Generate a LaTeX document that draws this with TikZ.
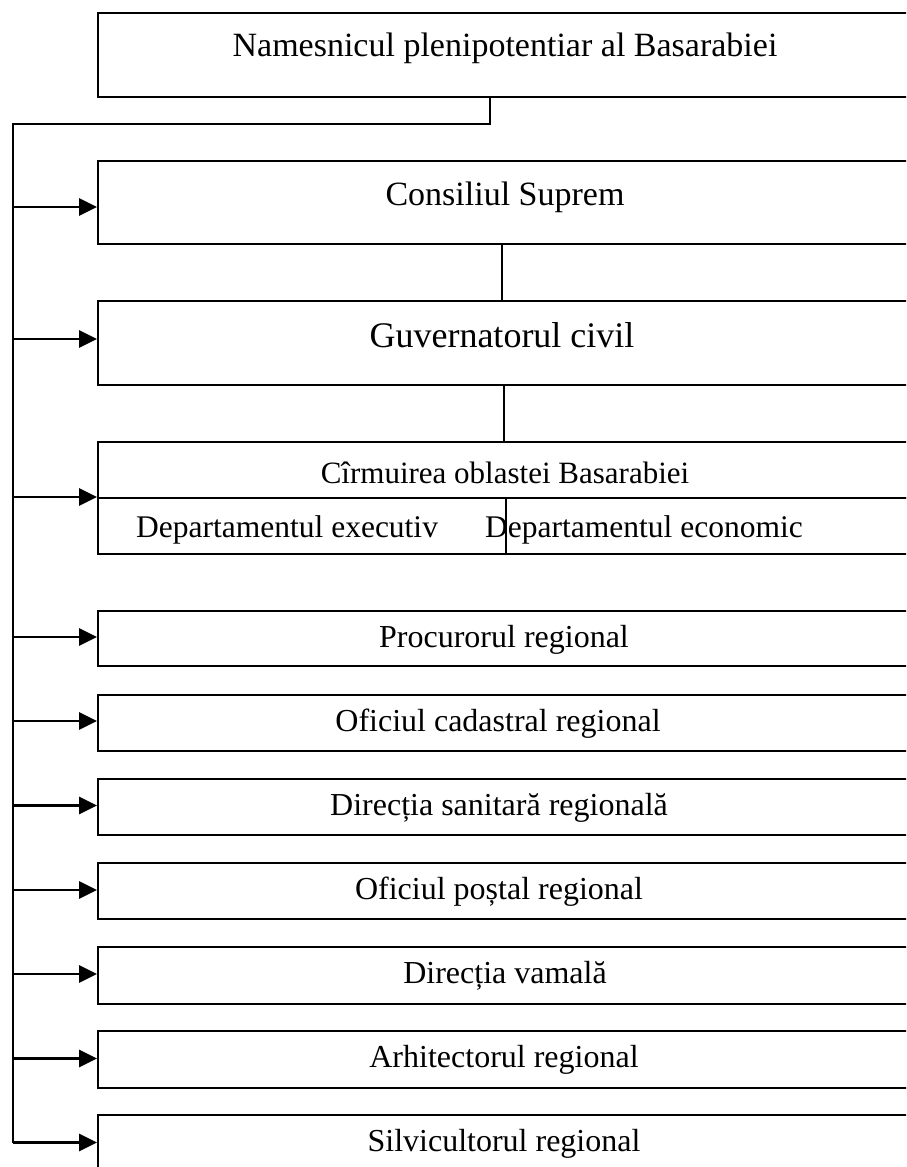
\documentclass[tikz,border=0pt]{standalone}
\usepackage{fontspec}
\setmainfont{Liberation Serif}
\usetikzlibrary{arrows.meta}
\begin{document}
\begin{tikzpicture}[x=1pt,y=-1pt,
  box/.style={draw,line width=2pt,anchor=north west,inner sep=0pt,minimum width=816pt},
  conn/.style={line width=2pt},
  arr/.style={line width=2.8pt,-{Triangle[length=18pt,width=17pt]}},
  big/.style={anchor=base,inner sep=0pt,font=\fontsize{34}{40}\selectfont},
  mid/.style={anchor=base,inner sep=0pt,font=\fontsize{32}{38}\selectfont},
  dep/.style={anchor=base west,inner sep=0pt,font=\fontsize{31.5}{38}\selectfont}]
\useasboundingbox (0,0) rectangle (906,1167);
\begin{scope}
\clip (0,0) rectangle (906,1167);
% boxes
\node[box,minimum height=84.5pt] (nam) at (97,11.5) {};
\node[box,minimum height=83.5pt] (cons) at (97,159.5) {};
\node[box,minimum height=84pt] (guv) at (97,300) {};
\node[box,minimum height=56pt] (cirm) at (97,440.5) {};
\node[box,minimum height=56pt,minimum width=408pt] (dexe) at (97,496.5) {};
\node[box,minimum height=56pt,minimum width=408pt] (deco) at (505,496.5) {};
\node[box,minimum height=55.5pt] (proc) at (97,609.5) {};
\node[box,minimum height=56pt] (cad) at (97,693.5) {};
\node[box,minimum height=56.5pt] (san) at (97,777.5) {};
\node[box,minimum height=56.5pt] (post) at (97,861.5) {};
\node[box,minimum height=56.5pt] (vam) at (97,946) {};
\node[box,minimum height=57pt] (arh) at (97,1030) {};
\node[box,minimum height=60pt] (silv) at (97,1114) {};
% texts
\node[big] (tnam) at (505,56) {Namesnicul plenipotentiar al Basarabiei};
\node[big] (tcons) at (505,205) {Consiliul Suprem};
\node[big,font=\fontsize{36}{42}\selectfont] (tguv) at (502,347) {Guvernatorul civil};
\node[mid,font=\fontsize{31}{36}\selectfont] (tcirm) at (505,483) {Cîrmuirea oblastei Basarabiei};
\node[dep] (tdexe) at (136,537) {Departamentul executiv};
\node[dep] (tdeco) at (485,537) {Departamentul economic};
\node[mid] (tproc) at (504,647) {Procurorul regional};
\node[mid] (tcad) at (498,731) {Oficiul cadastral regional};
\node[mid] (tsan) at (499,815) {Direcția sanitară regională};
\node[mid] (tpost) at (499,899) {Oficiul poștal regional};
\node[mid] (tvam) at (505,983) {Direcția vamală};
\node[mid] (tarh) at (504,1067) {Arhitectorul regional};
\node[mid] (tsilv) at (504,1151) {Silvicultorul regional};
% connectors
\coordinate (tj) at (490,124);
\coordinate (tc) at (12.5,124);
\coordinate (se) at (12.5,1142.5);
\draw[conn,line join=miter] (nam.south -| tj) -- (tj) -- (tc) -- (se);
\coordinate (v1) at (501.5,0);
\coordinate (v2) at (504,0);
\draw[conn] (cons.south -| v1) -- (guv.north -| v1);
\draw[conn] (guv.south -| v2) -- (cirm.north -| v2);
% arrows
\foreach \n/\y in {cons/207,guv/339,cirm/497,proc/637,cad/721,san/805.5,post/890,vam/974,arh/1058.5,silv/1142.5}{
  \coordinate (a\n) at (12.5,\y);
  \draw[arr] (a\n) -- (a\n -| \n.west);
}
\end{scope}
\end{tikzpicture}
\end{document}
